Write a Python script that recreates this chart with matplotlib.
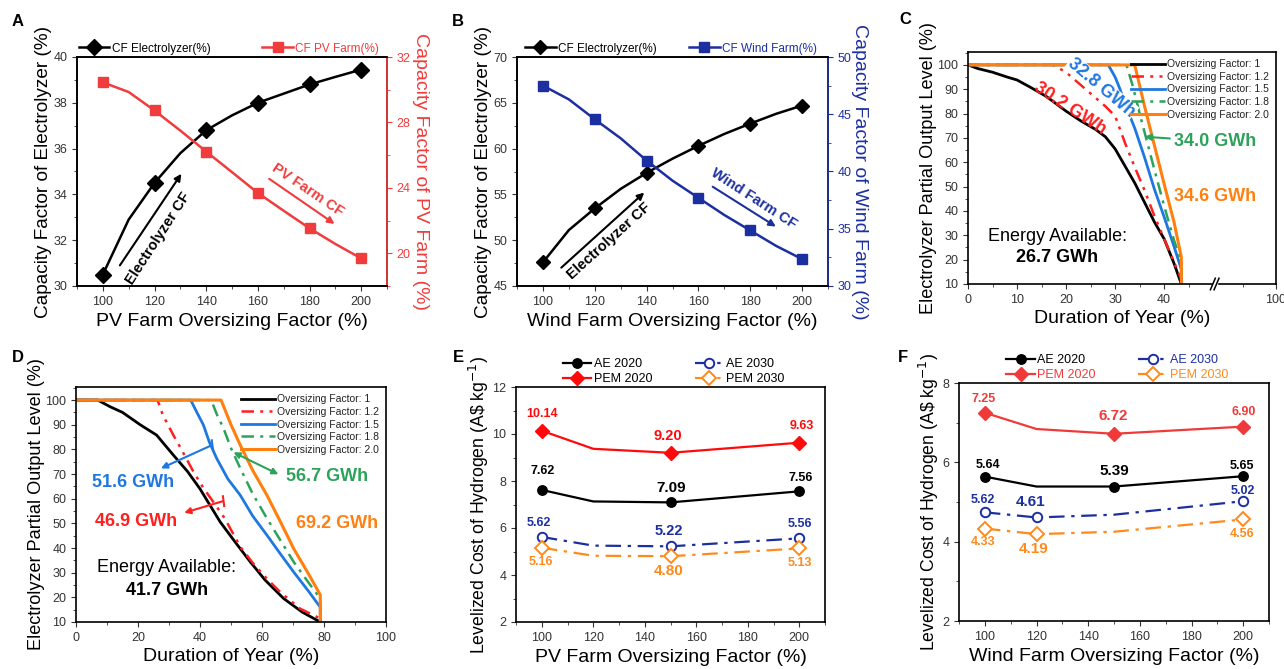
import numpy as np
import matplotlib
matplotlib.use('Agg')
import matplotlib.pyplot as plt
from matplotlib.lines import Line2D
from matplotlib.ticker import MultipleLocator

plt.rcParams['font.family'] = ['Liberation Sans', 'DejaVu Sans']
plt.rcParams['axes.linewidth'] = 1.2
plt.rcParams['xtick.direction'] = 'out'
plt.rcParams['ytick.direction'] = 'out'
plt.rcParams['xtick.labelsize'] = 9
plt.rcParams['ytick.labelsize'] = 9
plt.rcParams['xtick.color'] = '#333333'
plt.rcParams['ytick.color'] = '#333333'

# ---------------- data ----------------
# panel A (PV)
osf = [100, 110, 120, 130, 140, 150, 160, 170, 180, 190, 200]
a_elec = [30.5, 32.9, 34.5, 35.8, 36.8, 37.45, 38.0, 38.4, 38.8, 39.13, 39.45]
a_pv = [30.45, 29.86, 28.73, 27.5, 26.22, 24.96, 23.69, 22.6, 21.53, 20.57, 19.69]

# panel B (wind)
b_elec = [47.58, 51.1, 53.47, 55.6, 57.35, 58.9, 60.3, 61.6, 62.73, 63.8, 64.7]
b_wind = [47.5, 46.3, 44.56, 42.9, 40.96, 39.2, 37.7, 36.2, 34.85, 33.5, 32.35]

# panel C duration curves (PV)
c_x1 = [0, 2, 5, 8, 10, 13, 16, 20, 23, 26, 28, 30, 32, 34, 36, 38, 40, 42, 43.5]
c_y1 = [100, 98.5, 97, 95, 93.8, 90.5, 87, 81, 77, 73.5, 70.5, 65.5, 58.5, 51.5, 43.5, 35.5, 28.5, 18.5, 10]
c_x12 = [0, 17.3, 20, 24, 28, 30, 32, 34, 36, 38, 40, 42, 43.5, 43.5]
c_y12 = [100, 100, 97, 90, 83, 79, 68, 58, 48.5, 38, 28.5, 19, 12, 10]
c_x15 = [0, 28.6, 30, 31, 32, 34, 36, 38, 40, 42, 43.5, 43.5]
c_y15 = [100, 100, 95, 90, 84, 74, 62, 49, 37.5, 25.5, 16, 10]
c_x18 = [0, 32.3, 33.5, 35, 36.5, 38, 40, 42, 43.5, 43.5]
c_y18 = [100, 100, 92, 80, 68.5, 57, 42, 28, 19, 10]
c_x20 = [0, 34, 36, 38, 40, 42, 43.5, 43.5]
c_y20 = [100, 100, 83, 67, 51, 35.5, 21, 10]

# panel D duration curves (wind)
d_x1 = [0, 7, 11, 15, 20.7, 26, 31.4, 36, 40, 46.5, 51, 56.2, 61, 67, 73, 78.8]
d_y1 = [100, 100, 97.3, 95, 90, 85.8, 77.7, 71, 64, 50.6, 43, 34.4, 27, 19.5, 14, 10]
d_x12 = [0, 26.3, 28, 31.4, 34, 37.9, 41, 44.3, 48, 53, 57, 61.6, 66, 72.3, 78.8, 78.8]
d_y12 = [100, 100, 94, 85.8, 80, 70.9, 64.5, 58.7, 52, 40.5, 34, 27.5, 22, 15.4, 11.4, 10]
d_x15 = [0, 37, 39, 41.1, 43, 45.4, 49, 53, 57, 61.6, 66, 70.2, 75, 78.8, 78.8]
d_y15 = [100, 100, 95, 89.9, 83, 76.3, 68, 61.4, 53, 45.2, 37.5, 30.3, 22.5, 16, 10]
d_x18 = [0, 43.6, 45.5, 47.6, 50, 53, 57, 61.6, 66, 70.2, 75, 78.8, 78.8]
d_y18 = [100, 100, 94, 88.5, 80.5, 72.3, 62, 52, 43, 34.4, 26, 19.5, 10]
d_x20 = [0, 46.8, 50, 53, 57, 61.6, 66, 70.2, 75, 78.8, 78.8]
d_y20 = [100, 100, 90, 81.7, 71.5, 61.4, 50.5, 39.8, 29.5, 21, 10]

# panel E LCOH (PV)
lc_x = [100, 120, 150, 200]
e_ae20 = [7.62, 7.13, 7.09, 7.56]
e_pem20 = [10.14, 9.37, 9.20, 9.63]
e_ae30 = [5.62, 5.25, 5.22, 5.56]
e_pem30 = [5.16, 4.82, 4.80, 5.13]

# panel F LCOH (wind)
f_ae20 = [5.64, 5.39, 5.39, 5.65]
f_pem20 = [7.25, 6.84, 6.72, 6.90]
f_ae30 = [4.74, 4.61, 4.68, 5.02]
f_pem30 = [4.33, 4.19, 4.25, 4.56]

osf_labels = ['Oversizing Factor: 1', 'Oversizing Factor: 1.2', 'Oversizing Factor: 1.5',
              'Oversizing Factor: 1.8', 'Oversizing Factor: 2.0']

RED = '#f03c3c'
NAVY = '#1c2fa0'
CBLUE = '#1f78e0'
CRED = '#ff1f1f'
CGREEN = '#2ca25a'
CORANGE = '#ff800e'
ORANGE = '#ff8a1c'

W, H = 1284, 669
fig = plt.figure(figsize=(W / 100, H / 100), dpi=100)


def px_axes(x0, y0, x1, y1):
    return fig.add_axes([x0 / W, 1 - y1 / H, (x1 - x0) / W, (y1 - y0) / H])


def letter(x, y, s):
    fig.text(x / W, 1 - y / H, s, fontsize=12, fontweight='bold', va='center', ha='center')


# ---------------- A ----------------
ax = px_axes(77, 57, 387, 286)
ax.plot(osf, a_elec, color='black', lw=1.8, marker='D', ms=8, markevery=2)
ax.set_xlim(90, 210)
ax.set_ylim(30, 40)
ax.xaxis.set_major_locator(MultipleLocator(20))
ax.xaxis.set_minor_locator(MultipleLocator(10))
ax.yaxis.set_major_locator(MultipleLocator(2))
ax.yaxis.set_minor_locator(MultipleLocator(1))
ax.set_xlabel('PV Farm Oversizing Factor (%)', fontsize=14, labelpad=4)
ax.set_ylabel('Capacity Factor of Electrolyzer (%)', fontsize=13.7, labelpad=1)
ax2 = ax.twinx()
ax2.plot(osf, a_pv, color=RED, lw=1.8, marker='s', ms=6.5, markevery=2)
ax2.set_ylim(18, 32)
ax2.yaxis.set_major_locator(MultipleLocator(4))
ax2.yaxis.set_minor_locator(MultipleLocator(2))
ax2.spines['right'].set_color(RED)
ax2.tick_params(axis='y', which='both', colors=RED)
ax2.set_ylabel('Capacity Factor of PV Farm (%)', fontsize=14, color=RED, rotation=270, labelpad=13)
ax.annotate('', xy=(131, 35.0), xytext=(106, 30.8),
            arrowprops=dict(arrowstyle='-|>', color='black', lw=1.5, mutation_scale=10))
ax.text(121.5, 32.1, 'Electrolyzer CF', rotation=57, fontsize=10.5, fontweight='bold',
        ha='center', va='center', rotation_mode='anchor')
ax2.annotate('', xy=(190.6, 21.7), xytext=(163.5, 24.65),
             arrowprops=dict(arrowstyle='-|>', color=RED, lw=1.5, mutation_scale=10))
ax2.text(179.5, 23.9, 'PV Farm CF', rotation=-34, fontsize=10.5, fontweight='bold', color=RED,
         ha='center', va='center', rotation_mode='anchor')
ax.legend([Line2D([], [], color='black', lw=1.8, marker='D', ms=8)], ['CF Electrolyzer(%)'],
          loc='lower left', bbox_to_anchor=(-0.01, 0.99), frameon=False, fontsize=8.5,
          handlelength=2.6, borderaxespad=0, handletextpad=0.2)
ax2.legend([Line2D([], [], color=RED, lw=1.8, marker='s', ms=6.5)], ['CF PV Farm(%)'],
           loc='lower right', bbox_to_anchor=(0.0, 0.99, 0.99, 0.1), frameon=False, fontsize=8.5,
           handlelength=2.6, borderaxespad=0, handletextpad=0.2, labelcolor=RED)
letter(18, 22, 'A')

# ---------------- B ----------------
ax = px_axes(517, 57, 828, 286)
ax.plot(osf, b_elec, color='black', lw=1.8, marker='D', ms=7.5, markevery=2)
ax.set_xlim(90, 210)
ax.set_ylim(45, 70)
ax.xaxis.set_major_locator(MultipleLocator(20))
ax.xaxis.set_minor_locator(MultipleLocator(10))
ax.yaxis.set_major_locator(MultipleLocator(5))
ax.yaxis.set_minor_locator(MultipleLocator(2.5))
ax.set_xlabel('Wind Farm Oversizing Factor (%)', fontsize=14, labelpad=4)
ax.set_ylabel('Capacity Factor of Electrolyzer (%)', fontsize=13.7, labelpad=1)
ax2 = ax.twinx()
ax2.plot(osf, b_wind, color=NAVY, lw=1.8, marker='s', ms=6.5, markevery=2)
ax2.set_ylim(30, 50)
ax2.yaxis.set_major_locator(MultipleLocator(5))
ax2.yaxis.set_minor_locator(MultipleLocator(2.5))
ax2.spines['right'].set_color(NAVY)
ax2.tick_params(axis='y', which='both', colors=NAVY)
ax2.set_ylabel('Capacity Factor of Wind Farm (%)', fontsize=14, color=NAVY, rotation=270, labelpad=12)
ax.annotate('', xy=(139.9, 55.4), xytext=(106.3, 46.8),
            arrowprops=dict(arrowstyle='-|>', color='black', lw=1.5, mutation_scale=10))
ax.text(125.5, 49.9, 'Electrolyzer CF', rotation=42, fontsize=10.5, fontweight='bold',
        ha='center', va='center', rotation_mode='anchor')
ax2.annotate('', xy=(190.8, 35.06), xytext=(164.6, 38.8),
             arrowprops=dict(arrowstyle='-|>', color=NAVY, lw=1.5, mutation_scale=10))
ax2.text(181.5, 37.6, 'Wind Farm CF', rotation=-33, fontsize=10.5, fontweight='bold', color=NAVY,
         ha='center', va='center', rotation_mode='anchor')
ax.legend([Line2D([], [], color='black', lw=1.8, marker='D', ms=7.5)], ['CF Electrolyzer(%)'],
          loc='lower left', bbox_to_anchor=(0.01, 0.99), frameon=False, fontsize=8.5,
          handlelength=2.6, borderaxespad=0, handletextpad=0.2)
ax2.legend([Line2D([], [], color=NAVY, lw=1.8, marker='s', ms=6.5)], ['CF Wind Farm(%)'],
           loc='lower right', bbox_to_anchor=(0.0, 0.99, 0.98, 0.1), frameon=False, fontsize=8.5,
           handlelength=2.6, borderaxespad=0, handletextpad=0.2, labelcolor=NAVY)
letter(458, 21, 'B')


# ---------------- C and D ----------------
def duration_panel(ax, xs, ys):
    styles = [dict(color='black', lw=2.0, ls='-'),
              dict(color=CRED, lw=1.8, ls=(0, (5, 2.5, 1.2, 2.5, 1.2, 2.5))),
              dict(color=CBLUE, lw=2.0, ls='-'),
              dict(color=CGREEN, lw=1.8, ls=(0, (5, 2.5, 1.2, 2.5))),
              dict(color=CORANGE, lw=2.2, ls='-')]
    for x, y, st, lab in zip(xs, ys, styles, osf_labels):
        ax.plot(x, y, label=lab, **st)
    ax.set_ylim(10, 105.3)
    ax.yaxis.set_major_locator(MultipleLocator(10))
    ax.yaxis.set_minor_locator(MultipleLocator(5))
    ax.set_xlabel('Duration of Year (%)', fontsize=14, labelpad=3)
    ax.set_ylabel('Electrolyzer Partial Output Level (%)', fontsize=13.1, labelpad=0)
    leg = ax.legend(loc='upper right', frameon=False, fontsize=7.5, handlelength=3.2,
                    handletextpad=0.2, labelspacing=0.25, borderaxespad=0.3)
    for t in leg.get_texts():
        t.set_color('#222222')


def bar_arrow(ax, start, end, color):
    # short cross bar on the curve, then an arrow to the label
    ax.annotate('', xy=end, xytext=start,
                arrowprops=dict(arrowstyle='-|>', color=color, lw=1.5, mutation_scale=9,
                                shrinkA=0, shrinkB=0))
    ax.plot([start[0], start[0] + 0.4], [start[1] + 2.0, start[1] - 2.0], color=color, lw=1.5)


ax = px_axes(968, 52, 1276, 284)
duration_panel(ax, [c_x1, c_x12, c_x15, c_x18, c_x20], [c_y1, c_y12, c_y15, c_y18, c_y20])
xend = 62.8
ax.set_xlim(0, xend)
ax.set_xticks([0, 10, 20, 30, 40, xend])
ax.set_xticklabels(['0', '10', '20', '30', '40', '100'])
ax.set_xticks([5, 15, 25, 35, 45, 56], minor=True)
# axis break marks
bx = 50.3 / xend
ax.add_patch(plt.Rectangle((bx - 0.006, -0.02), 0.012, 0.04, transform=ax.transAxes,
                           color='white', clip_on=False, zorder=5))
for dx in (-0.006, 0.006):
    ax.plot([bx + dx - 0.008, bx + dx + 0.008], [-0.025, 0.025], transform=ax.transAxes,
            color='black', lw=1.1, clip_on=False, zorder=6)
ax.text(20.8, 82, '30.2 GWh', rotation=-33, color=CRED, fontsize=13, fontweight='bold',
        ha='center', va='center', rotation_mode='anchor')
ax.text(27.2, 90.5, '32.8 GWh', rotation=-40, color=CBLUE, fontsize=13, fontweight='bold',
        ha='center', va='center', rotation_mode='anchor',
        bbox=dict(boxstyle='square,pad=0.05', fc='white', ec='none'))
ax.annotate('34.0 GWh', xy=(36.0, 70.5), xytext=(42.0, 68.5), color=CGREEN, fontsize=13,
            fontweight='bold', va='center', ha='left',
            arrowprops=dict(arrowstyle='-|>', color=CGREEN, lw=1.5, mutation_scale=9,
                            shrinkA=1, shrinkB=0))
ax.text(42.0, 46, '34.6 GWh', color=CORANGE, fontsize=13, fontweight='bold', va='center', ha='left')
ax.text(18.2, 29.5, 'Energy Available:', fontsize=13, ha='center', va='center')
ax.text(18.2, 20.8, '26.7 GWh', fontsize=13, fontweight='bold', ha='center', va='center')
letter(905, 20, 'C')

ax = px_axes(76, 387, 386, 622)
duration_panel(ax, [d_x1, d_x12, d_x15, d_x18, d_x20], [d_y1, d_y12, d_y15, d_y18, d_y20])
ax.set_xlim(0, 100)
ax.xaxis.set_major_locator(MultipleLocator(20))
ax.xaxis.set_minor_locator(MultipleLocator(10))
bar_arrow(ax, (43.8, 81.7), (27.4, 72.3), CBLUE)
ax.text(18.5, 66.5, '51.6 GWh', color=CBLUE, fontsize=13, fontweight='bold', ha='center', va='center')
bar_arrow(ax, (47.4, 59), (34.9, 54.3), CRED)
ax.text(19.5, 50.7, '46.9 GWh', color=CRED, fontsize=13, fontweight='bold', ha='center', va='center')
ax.annotate('', xy=(65.3, 69.9), xytext=(50.8, 78.8),
            arrowprops=dict(arrowstyle='<|-|>', color=CGREEN, lw=1.5, mutation_scale=9,
                            shrinkA=0, shrinkB=0))
ax.text(81, 68.9, '56.7 GWh', color=CGREEN, fontsize=13, fontweight='bold', ha='center', va='center')
ax.text(84.2, 49.9, '69.2 GWh', color=CORANGE, fontsize=13, fontweight='bold', ha='center', va='center')
ax.text(29.3, 32.1, 'Energy Available:', fontsize=13, ha='center', va='center')
ax.text(29.3, 22.9, '41.7 GWh', fontsize=13, fontweight='bold', ha='center', va='center')
letter(18, 358, 'D')


# ---------------- E and F ----------------
def lcoh_panel(ax, ae20, pem20, ae30, pem30, mk20, mk30, pemred, legcolors):
    h1, = ax.plot(lc_x, ae20, color='black', lw=1.6, marker='o', ms=6.8, markevery=mk20)
    h2, = ax.plot(lc_x, pem20, color=pemred, lw=1.6, marker='D', ms=7, markevery=mk20)
    h3, = ax.plot(lc_x, ae30, color=NAVY, lw=1.6, ls=(0, (7, 3, 1.5, 3)), marker='o', ms=6.8,
                  mfc='white', mew=1.4, markevery=mk30)
    h4, = ax.plot(lc_x, pem30, color=ORANGE, lw=1.6, ls=(0, (7, 3, 1.5, 3)), marker='D', ms=7,
                  mfc='white', mew=1.4, markevery=mk30)
    ax.set_xlim(90, 210)
    ax.xaxis.set_major_locator(MultipleLocator(20))
    ax.xaxis.set_minor_locator(MultipleLocator(10))
    ax.yaxis.set_major_locator(MultipleLocator(2))
    ax.yaxis.set_minor_locator(MultipleLocator(1))
    ax.set_ylabel('Levelized Cost of Hydrogen (A\\$ kg$^{-1}$)', fontsize=12.7, labelpad=1)
    leg = ax.legend([h1, h2, h3, h4], ['AE 2020', 'PEM 2020', 'AE 2030', 'PEM 2030'], ncol=2,
                    loc='lower center', bbox_to_anchor=(0.51, 0.975), frameon=False, fontsize=9,
                    handlelength=2.3, handletextpad=0.2, columnspacing=3.4, labelspacing=0.28,
                    borderaxespad=0.2)
    for t, c in zip(leg.get_texts(), legcolors):
        t.set_color(c)
    return leg


ax = px_axes(516, 387, 825, 622)
lcoh_panel(ax, e_ae20, e_pem20, e_ae30, e_pem30, [0, 2, 3], [0, 2, 3], '#ff0a0a',
           ['black', 'black', 'black', 'black'])
ax.set_ylim(2, 12)
ax.set_xlabel('PV Farm Oversizing Factor (%)', fontsize=14, labelpad=4)
e_labels = [
    (100.3, 10.85, '10.14', '#ff0a0a', 9), (149, 9.90, '9.20', '#ff0a0a', 10.5), (201, 10.32, '9.63', '#ff0a0a', 9),
    (100.4, 8.41, '7.62', 'black', 9), (150.3, 7.70, '7.09', 'black', 11), (200.6, 8.12, '7.56', 'black', 9),
    (99, 6.23, '5.62', NAVY, 9), (149.4, 5.89, '5.22', NAVY, 10.5), (200.2, 6.16, '5.56', NAVY, 9),
    (99.6, 4.57, '5.16', ORANGE, 9), (149.3, 4.17, '4.80', ORANGE, 11), (200.2, 4.49, '5.13', ORANGE, 9),
]
for x, y, s, c, fs in e_labels:
    ax.text(x, y, s, color=c, fontsize=fs, fontweight='bold', ha='center', va='center')
letter(458, 358, 'E')

ax = px_axes(959, 383, 1269, 621)
lcoh_panel(ax, f_ae20, f_pem20, f_ae30, f_pem30, [0, 2, 3], [0, 1, 3], '#f03a3a',
           ['black', '#f03a3a', NAVY, ORANGE])
ax.set_ylim(2, 8)
ax.set_xlabel('Wind Farm Oversizing Factor (%)', fontsize=14, labelpad=4)
f_labels = [
    (99.4, 7.60, '7.25', '#f03a3a', 9), (149.7, 7.18, '6.72', '#f03a3a', 11), (200.3, 7.27, '6.90', '#f03a3a', 9),
    (101.1, 5.94, '5.64', 'black', 9), (150, 5.79, '5.39', 'black', 11), (199.4, 5.92, '5.65', 'black', 9),
    (99.2, 5.04, '5.62', NAVY, 9), (117.7, 5.00, '4.61', NAVY, 11), (199.7, 5.28, '5.02', NAVY, 9),
    (99.2, 3.98, '4.33', ORANGE, 9), (119, 3.82, '4.19', ORANGE, 11), (199.7, 4.19, '4.56', ORANGE, 9),
]
for x, y, s, c, fs in f_labels:
    ax.text(x, y, s, color=c, fontsize=fs, fontweight='bold', ha='center', va='center')
letter(903, 358, 'F')

fig.savefig('out.png', dpi=100)
